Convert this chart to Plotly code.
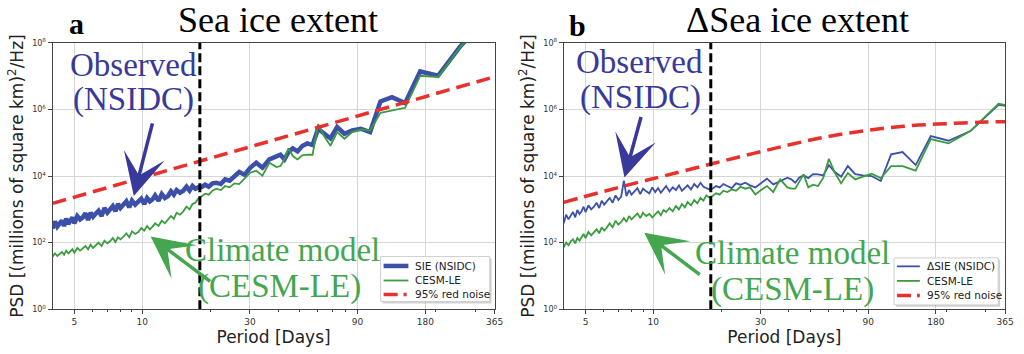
import math
import plotly.graph_objects as go

# ---------------- data ----------------
periods = [4.0, 4.1, 4.2, 4.3, 4.4, 4.5, 4.6, 4.7, 4.8, 4.9,
           5.0, 5.15, 5.3, 5.45, 5.6, 5.75, 5.9, 6.05, 6.2, 6.4,
           6.6, 6.8, 7.0, 7.2, 7.4, 7.6, 7.8, 8.0, 8.25, 8.5,
           8.75, 9.0, 9.3, 9.6, 9.9, 10.2, 10.5, 10.8, 11.1, 11.4,
           11.8, 12.2, 12.6, 13.0, 13.4, 13.8, 14.2, 14.7, 15.2, 15.7,
           16.2, 16.7, 17.2, 17.7,
           18.3, 19.0, 19.7, 20.5, 21.3, 22.3, 23.3, 24.4, 25.6, 26.9,
           28.4, 30.1, 32.0, 34.1, 36.6, 39.4, 41.0, 42.7, 44.5, 46.5,
           48.8, 51.2, 53.9, 56.9, 60.2, 64.0, 68.3, 73.1, 78.8, 85.3,
           93.1, 102.4, 113.8, 128.0, 146.3, 170.7, 204.8, 256.0, 341.3, 512.0]

# log10 of PSD, panel a
sie_obs_log10 = [2.42, 2.64, 2.48, 2.58, 2.66, 2.50, 2.72, 2.56, 2.64, 2.76,
                 2.58, 2.80, 2.70, 2.76, 2.88, 2.68, 2.90, 2.78, 2.86, 2.96,
                 2.80, 3.04, 2.90, 2.98, 3.10, 2.94, 3.16, 3.04, 3.12, 3.24,
                 3.06, 3.26, 3.14, 3.22, 3.32, 3.16, 3.34, 3.24, 3.30, 3.42,
                 3.26, 3.46, 3.34, 3.40, 3.54, 3.44, 3.58, 3.50, 3.56, 3.68,
                 3.56, 3.70, 3.62, 3.66,
                 3.66, 3.74, 3.68, 3.78, 3.80, 3.76, 3.90, 3.86, 4.00, 4.12,
                 4.04, 4.25, 4.40, 4.25, 4.50, 4.58, 4.64, 4.50, 4.72, 4.83,
                 4.74, 4.90, 4.98, 4.93, 5.42, 5.28, 5.13, 5.47, 5.27, 5.37,
                 5.42, 5.32, 6.24, 6.37, 6.19, 7.14, 7.01, 7.88, 8.80, 9.30]
sie_cesm_log10 = [1.58, 1.68, 1.60, 1.66, 1.72, 1.64, 1.76, 1.68, 1.74, 1.80,
                  1.70, 1.84, 1.76, 1.82, 1.90, 1.80, 1.94, 1.84, 1.92, 2.00,
                  1.90, 2.06, 1.98, 2.04, 2.14, 2.02, 2.16, 2.10, 2.18, 2.28,
                  2.16, 2.34, 2.26, 2.32, 2.44, 2.36, 2.50, 2.40, 2.48, 2.58,
                  2.50, 2.66, 2.58, 2.70, 2.80, 2.72, 2.90, 2.84, 2.94, 3.08,
                  3.00, 3.16, 3.20, 3.32,
                  3.38, 3.47, 3.44, 3.56, 3.62, 3.58, 3.70, 3.66, 3.78, 3.76,
                  3.92, 4.10, 4.16, 4.01, 4.40, 4.27, 4.30, 4.50, 4.83, 4.60,
                  4.50, 4.62, 4.64, 4.64, 5.56, 5.20, 4.91, 5.32, 5.12, 5.32,
                  5.40, 5.37, 5.90, 5.98, 6.05, 7.01, 6.97, 7.86, 8.80, 9.30]

# log10 of PSD, panel b
dsie_obs_log10 = [2.58, 2.84, 2.70, 2.80, 2.92, 2.76, 2.98, 2.86, 2.94, 3.08,
                  2.92, 3.12, 3.00, 3.08, 3.20, 3.04, 3.26, 3.14, 3.22, 3.34,
                  3.20, 3.42, 3.28, 3.38, 3.86, 3.40, 3.58, 3.44, 3.54, 3.64,
                  3.46, 3.62, 3.54, 3.48, 3.66, 3.52, 3.64, 3.50, 3.60, 3.70,
                  3.54, 3.66, 3.58, 3.72, 3.56, 3.64, 3.72, 3.60, 3.76, 3.66,
                  3.80, 3.68, 3.64, 3.60,
                  3.62, 3.70, 3.66, 3.76, 3.70, 3.64, 3.78, 3.74, 3.80, 3.72,
                  3.66, 3.80, 3.92, 3.75, 3.85, 3.95, 3.90, 3.80, 3.96, 4.02,
                  3.94, 4.06, 4.05, 4.02, 4.33, 4.12, 3.98, 4.30, 4.06, 4.02,
                  4.00, 3.85, 4.65, 4.72, 4.33, 5.20, 5.06, 5.35, 6.14, 5.95]
dsie_cesm_log10 = [1.86, 2.00, 1.92, 2.04, 2.10, 1.98, 2.14, 2.06, 2.16, 2.26,
                   2.14, 2.32, 2.22, 2.30, 2.40, 2.28, 2.46, 2.36, 2.44, 2.58,
                   2.46, 2.66, 2.54, 2.62, 2.74, 2.62, 2.80, 2.70, 2.78, 2.88,
                   2.74, 2.90, 2.80, 2.86, 2.76, 2.84, 2.94, 2.82, 2.98, 2.92,
                   3.04, 2.94, 3.10, 3.00, 3.16, 3.06, 3.22, 3.12, 3.28, 3.18,
                   3.34, 3.26, 3.42, 3.36,
                   3.40, 3.48, 3.44, 3.56, 3.52, 3.60, 3.56, 3.68, 3.62, 3.66,
                   3.45, 3.58, 3.70, 3.52, 3.90, 3.66, 3.62, 3.62, 3.85, 4.05,
                   3.66, 3.74, 3.70, 3.95, 4.52, 4.10, 3.78, 4.09, 3.90, 3.98,
                   4.07, 3.94, 4.30, 4.30, 4.16, 5.11, 4.98, 5.35, 6.17, 5.95]

# 95% red-noise curves
red_a_periods = [4.0, 10.0, 30.0, 100.0, 365.0]
red_a_log10 = [3.18, 3.95, 4.87, 5.88, 6.98]
red_b_periods = [4.0, 7.6, 11.1, 18.0, 27.9, 39.8, 54.9, 76.9, 108.0, 151.0, 212.0, 297.0, 365.0]
red_b_log10 = [3.21, 3.72, 4.00, 4.36, 4.68, 4.93, 5.14, 5.31, 5.44, 5.53, 5.58, 5.62, 5.63]

cutoff_period = 18.0
x_tickvals = [5, 10, 30, 90, 180, 365]
x_ticktext = ["5", "10", "30", "90", "180", "365"]
x_minor = [6, 7, 8, 9, 20, 40, 50, 60, 70, 80, 200, 300]
y_tickvals = [1, 1e2, 1e4, 1e6, 1e8]
y_ticktext = ["10<sup>0</sup>", "10<sup>2</sup>", "10<sup>4</sup>", "10<sup>6</sup>", "10<sup>8</sup>"]

legend_a_labels = ["SIE (NSIDC)", "CESM-LE", "95% red noise"]
legend_b_labels = ["ΔSIE (NSIDC)", "CESM-LE", "95% red noise"]

# ---------------- style ----------------
W, H = 1024, 354
BLUE = "#3c50aa"
GREEN = "#3a9c3f"
RED = "#e8302c"
TXT_BLUE = "#38399a"
TXT_GREEN = "#44a64e"
SERIF = "Liberation Serif, Times New Roman, serif"
SANS = "DejaVu Sans, sans-serif"
RED_DASH = "14px,7px"


def pw(v):
    return [10 ** x for x in v]


def px(x):
    return x / W


def py(y):
    return 1 - y / H


fig = go.Figure()

# panel a
fig.add_trace(go.Scatter(x=periods, y=pw(sie_obs_log10), mode="lines", name=legend_a_labels[0],
                         line=dict(color=BLUE, width=4.5), xaxis="x", yaxis="y", showlegend=False))
fig.add_trace(go.Scatter(x=periods, y=pw(sie_cesm_log10), mode="lines", name=legend_a_labels[1],
                         line=dict(color=GREEN, width=1.8), xaxis="x", yaxis="y", showlegend=False))
fig.add_trace(go.Scatter(x=red_a_periods, y=pw(red_a_log10), mode="lines", name=legend_a_labels[2],
                         line=dict(color=RED, width=3.5, dash=RED_DASH), xaxis="x", yaxis="y",
                         showlegend=False))
fig.add_trace(go.Scatter(x=[cutoff_period, cutoff_period], y=[1, 1e8], mode="lines", showlegend=False,
                         line=dict(color="black", width=3, dash="9px,4px"), xaxis="x", yaxis="y",
                         hoverinfo="skip"))

# panel b
fig.add_trace(go.Scatter(x=periods, y=pw(dsie_obs_log10), mode="lines", name=legend_b_labels[0],
                         line=dict(color=BLUE, width=1.8), xaxis="x2", yaxis="y2", showlegend=False))
fig.add_trace(go.Scatter(x=periods, y=pw(dsie_cesm_log10), mode="lines", name=legend_b_labels[1],
                         line=dict(color=GREEN, width=1.8), xaxis="x2", yaxis="y2", showlegend=False))
fig.add_trace(go.Scatter(x=red_b_periods, y=pw(red_b_log10), mode="lines", name=legend_b_labels[2],
                         line=dict(color=RED, width=3.5, dash=RED_DASH, shape="spline"),
                         xaxis="x2", yaxis="y2", showlegend=False))
fig.add_trace(go.Scatter(x=[cutoff_period, cutoff_period], y=[1, 1e8], mode="lines", showlegend=False,
                         line=dict(color="black", width=3, dash="9px,4px"), xaxis="x2", yaxis="y2",
                         hoverinfo="skip"))

xr = [math.log10(4.0), math.log10(365)]
common_x = dict(type="log", range=xr, tickvals=x_tickvals, ticktext=x_ticktext,
                ticks="outside", ticklen=4, tickcolor="#444", tickwidth=1,
                showgrid=True, gridcolor="#d6d6d6", gridwidth=1,
                showline=True, mirror=True, linecolor="#444", linewidth=1,
                tickfont=dict(family=SANS, size=9, color="#333"),
                minor=dict(tickvals=x_minor, ticks="outside", ticklen=2, tickcolor="#444", showgrid=False),
                title=dict(text="Period [Days]", font=dict(family=SANS, size=17, color="#222"), standoff=4),
                zeroline=False)
common_y = dict(type="log", range=[0, 8], tickvals=y_tickvals, ticktext=y_ticktext,
                ticks="outside", ticklen=4, tickcolor="#444",
                showgrid=True, gridcolor="#d6d6d6", gridwidth=1,
                showline=True, mirror=True, linecolor="#444", linewidth=1,
                tickfont=dict(family=SANS, size=8, color="#333"),
                title=dict(text="PSD [(millions of square km)<sup>2</sup>/Hz]",
                           font=dict(family=SANS, size=17, color="#222"), standoff=4),
                zeroline=False)

fig.update_layout(
    width=W, height=H, margin=dict(l=0, r=0, t=0, b=0),
    paper_bgcolor="white", plot_bgcolor="white",
    xaxis=dict(domain=[px(53), px(499)], anchor="y", **common_x),
    yaxis=dict(domain=[py(313), py(38)], anchor="x", **common_y),
    xaxis2=dict(domain=[px(568.7), px(1014)], anchor="y2", **common_x),
    yaxis2=dict(domain=[py(313), py(38)], anchor="x2", **common_y),
    showlegend=False,
)

ann = []
shapes = []


def center_text(text, cx, cy, size, color, family=SERIF):
    ann.append(dict(text=text, x=px(cx), y=py(cy), xref="paper", yref="paper", showarrow=False,
                    xanchor="center", yanchor="middle", font=dict(family=family, size=size, color=color)))


# panel titles and letters
center_text("Sea ice extent", 280, 14, 36, "black")
center_text("<b>a</b>", 77, 18, 30, "black")
center_text("ΔSea ice extent", 805, 14, 36, "black")
center_text("<b>b</b>", 583, 20, 30, "black")

# text callouts
center_text("Observed", 135, 61, 33, TXT_BLUE)
center_text("(NSIDC)", 135, 97, 33, TXT_BLUE)
center_text("Climate model", 285, 252, 33, TXT_GREEN)
center_text("(CESM-LE)", 282, 289, 33, TXT_GREEN)
center_text("Observed", 645, 58, 33, TXT_BLUE)
center_text("(NSIDC)", 646, 94, 33, TXT_BLUE)
center_text("Climate model", 800, 255, 33, TXT_GREEN)
center_text("(CESM-LE)", 800, 293, 33, TXT_GREEN)

# arrows (tip, tail)
for (tx, ty), (ax_, ay_), col in [((135, 196), (154, 122), TXT_BLUE),
                                  ((152, 238), (213, 284), TXT_GREEN),
                                  ((630, 177), (647, 115), TXT_BLUE),
                                  ((650, 234), (707, 277), TXT_GREEN)]:
    ann.append(dict(text="", x=px(tx), y=py(ty), xref="paper", yref="paper", showarrow=True,
                    ax=ax_ - tx, ay=ay_ - ty, arrowhead=3, arrowsize=2.0, arrowwidth=3.5,
                    arrowcolor=col, standoff=0))


# manual legends (matplotlib style)
def legend_box(x0, y0, x1, y1, row_ys, sample_x0, sample_x1, text_x, labels, styles):
    shapes.append(dict(type="rect", xref="paper", yref="paper",
                       x0=px(x0 + 2), x1=px(x1 + 2), y0=py(y1 + 2), y1=py(y0 + 2),
                       fillcolor="rgba(0,0,0,0.18)", line=dict(width=0), layer="above"))
    shapes.append(dict(type="rect", xref="paper", yref="paper",
                       x0=px(x0), x1=px(x1), y0=py(y1), y1=py(y0),
                       fillcolor="white", line=dict(color="#cfcfcf", width=1), layer="above"))
    for ry, lab, st in zip(row_ys, labels, styles):
        shapes.append(dict(type="line", xref="paper", yref="paper",
                           x0=px(sample_x0), x1=px(sample_x1), y0=py(ry), y1=py(ry),
                           line=st, layer="above"))
        ann.append(dict(text=lab, x=px(text_x), y=py(ry), xref="paper", yref="paper",
                        showarrow=False, xanchor="left", yanchor="middle",
                        font=dict(family=SANS, size=10.5, color="#222")))


legend_box(384, 258.5, 494, 305, [268.3, 283.3, 297.7], 387, 412, 417, legend_a_labels,
           [dict(color=BLUE, width=4.5), dict(color=GREEN, width=1.8),
            dict(color=RED, width=3.5, dash="14px,6px,3px,10px")])
legend_box(902, 260, 1007, 308.5, [268.7, 283.7, 298.7], 905, 928, 933, legend_b_labels,
           [dict(color=BLUE, width=1.8), dict(color=GREEN, width=1.8),
            dict(color=RED, width=3.5, dash="14px,6px,3px,10px")])

fig.update_layout(annotations=ann, shapes=shapes)
fig.write_html("out.html")
